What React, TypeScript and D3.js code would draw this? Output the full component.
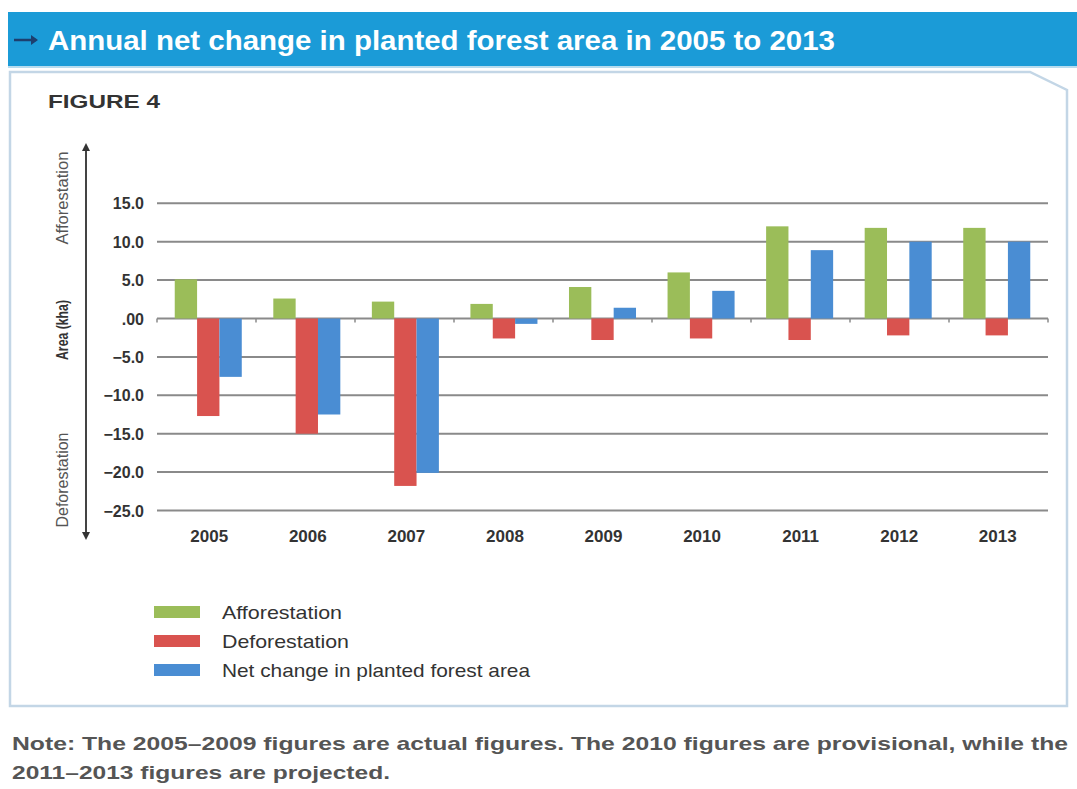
import React from "react";
import * as d3 from "d3";

const years = ["2005", "2006", "2007", "2008", "2009", "2010", "2011", "2012", "2013"];
const afforestation = [5.1, 2.6, 2.2, 1.9, 4.1, 6.0, 12.0, 11.8, 11.8];
const deforestation = [-12.7, -15.0, -21.8, -2.6, -2.8, -2.6, -2.8, -2.2, -2.2];
const netChange = [-7.6, -12.5, -20.1, -0.7, 1.4, 3.6, 8.9, 10.0, 10.0];
const yTicks = [15, 10, 5, 0, -5, -10, -15, -20, -25];
const seriesNames = ["Afforestation", "Deforestation", "Net change in planted forest area"];
const seriesColors = ["#9bbd59", "#d9534f", "#4a8dd3"];
const legendWidths = [120, 127, 308];

const FONT = "'Liberation Sans Narrow', 'Arial Narrow', 'Liberation Sans', sans-serif";

export default function App() {
  const W = 1077, H = 789;
  const left = 157, right = 1048;
  const x = d3.scaleBand<string>().domain(years).range([left, right]).paddingInner(0.32).paddingOuter(0.18);
  const y = d3.scaleLinear().domain([-25, 15]).range([510.5, 203.3]);
  const x1 = d3.scaleBand<number>().domain([0, 1, 2]).range([0, x.bandwidth()]);
  const series = [afforestation, deforestation, netChange];
  const fmt = (v: number) => (v === 0 ? ".00" : d3.format(".1f")(v));
  const outer = d3.scaleBand<string>().domain(years).range([left, right]);

  return (
    <svg width={W} height={H} style={{ position: "absolute", left: 0, top: 0, background: "#fff" }} fontFamily={FONT}>
      {/* header */}
      <rect x={8} y={12} width={1069} height={54} fill="#1b9bd7" />
      <line x1={8} x2={1077} y1={67} y2={67} stroke="#9fd0ea" strokeWidth={1.5} />
      <path d="M14,40 L36,40" stroke="#1d3f6e" strokeWidth={2.5} />
      <path d="M31,35 L38,40 L31,45 Z" fill="#1d3f6e" />
      <text x={48} y={50} fill="#fff" fontSize={27} fontWeight="bold" textLength={787} lengthAdjust="spacingAndGlyphs">
        Annual net change in planted forest area in 2005 to 2013
      </text>
      {/* box */}
      <path d="M10,72 L1030,72 L1067,90 L1067,706 L10,706 Z" fill="#fff" stroke="#c3d6e6" strokeWidth={2.5} />
      <text x={48} y={108} fill="#333" fontSize={19} fontWeight="bold" textLength={112} lengthAdjust="spacingAndGlyphs">
        FIGURE 4
      </text>

      {/* gridlines */}
      {yTicks.map((t) => (
        <g key={t}>
          <line x1={left} x2={right} y1={y(t)} y2={y(t)} stroke="#8a8a8a" strokeWidth={2} />
          <text x={144} y={y(t) + 6} textAnchor="end" fontSize={16} fontWeight="bold" fill="#333">
            {fmt(t)}
          </text>
        </g>
      ))}
      {/* small ticks on zero line */}
      {years.map((yr) => (
        <line key={yr} x1={outer(yr)!} x2={outer(yr)!} y1={y(0)} y2={y(0) + 4} stroke="#8a8a8a" strokeWidth={1.5} />
      ))}
      <line x1={right} x2={right} y1={y(0)} y2={y(0) + 4} stroke="#8a8a8a" strokeWidth={1.5} />

      {/* bars */}
      {series.map((vals, si) => (
        <g key={si} fill={seriesColors[si]}>
          {vals.map((v, i) => (
            <rect
              key={i}
              x={x(years[i])! + x1(si)!}
              width={x1.bandwidth()}
              y={y(Math.max(0, v))}
              height={Math.abs(y(v) - y(0))}
            />
          ))}
        </g>
      ))}

      {/* x labels */}
      {years.map((yr) => (
        <text key={yr} x={x(yr)! + x.bandwidth() / 2 + 1} y={542} textAnchor="middle" fontSize={17} fontWeight="bold" fill="#333">
          {yr}
        </text>
      ))}

      {/* side axis arrow */}
      <line x1={86} x2={86} y1={150} y2={533} stroke="#444" strokeWidth={2} />
      <path d="M86,143 L82,151 L90,151 Z" fill="#333" />
      <path d="M86,540 L82,532 L90,532 Z" fill="#333" />
      <text transform="translate(68,198) rotate(-90)" textAnchor="middle" fontSize={17} fill="#555" textLength={93} lengthAdjust="spacingAndGlyphs">
        Afforestation
      </text>
      <text transform="translate(68,330) rotate(-90)" textAnchor="middle" fontSize={17} fontWeight="bold" fill="#333" textLength={60} lengthAdjust="spacingAndGlyphs">
        Area (kha)
      </text>
      <text transform="translate(68,480) rotate(-90)" textAnchor="middle" fontSize={17} fill="#555" textLength={95} lengthAdjust="spacingAndGlyphs">
        Deforestation
      </text>

      {/* legend */}
      {seriesNames.map((n, i) => (
        <g key={n} transform={`translate(0,${612 + i * 29})`}>
          <rect x={154} y={-6} width={46} height={12} fill={seriesColors[i]} />
          <text x={222} y={7} fontSize={19} fill="#333" textLength={legendWidths[i]} lengthAdjust="spacingAndGlyphs">
            {n}
          </text>
        </g>
      ))}

      {/* note */}
      <text x={12} y={750} fontSize={19} fontWeight="bold" fill="#555" textLength={1056} lengthAdjust="spacingAndGlyphs">
        Note: The 2005–2009 figures are actual figures. The 2010 figures are provisional, while the
      </text>
      <text x={12} y={779} fontSize={19} fontWeight="bold" fill="#555" textLength={378} lengthAdjust="spacingAndGlyphs">
        2011–2013 figures are projected.
      </text>
    </svg>
  );
}
